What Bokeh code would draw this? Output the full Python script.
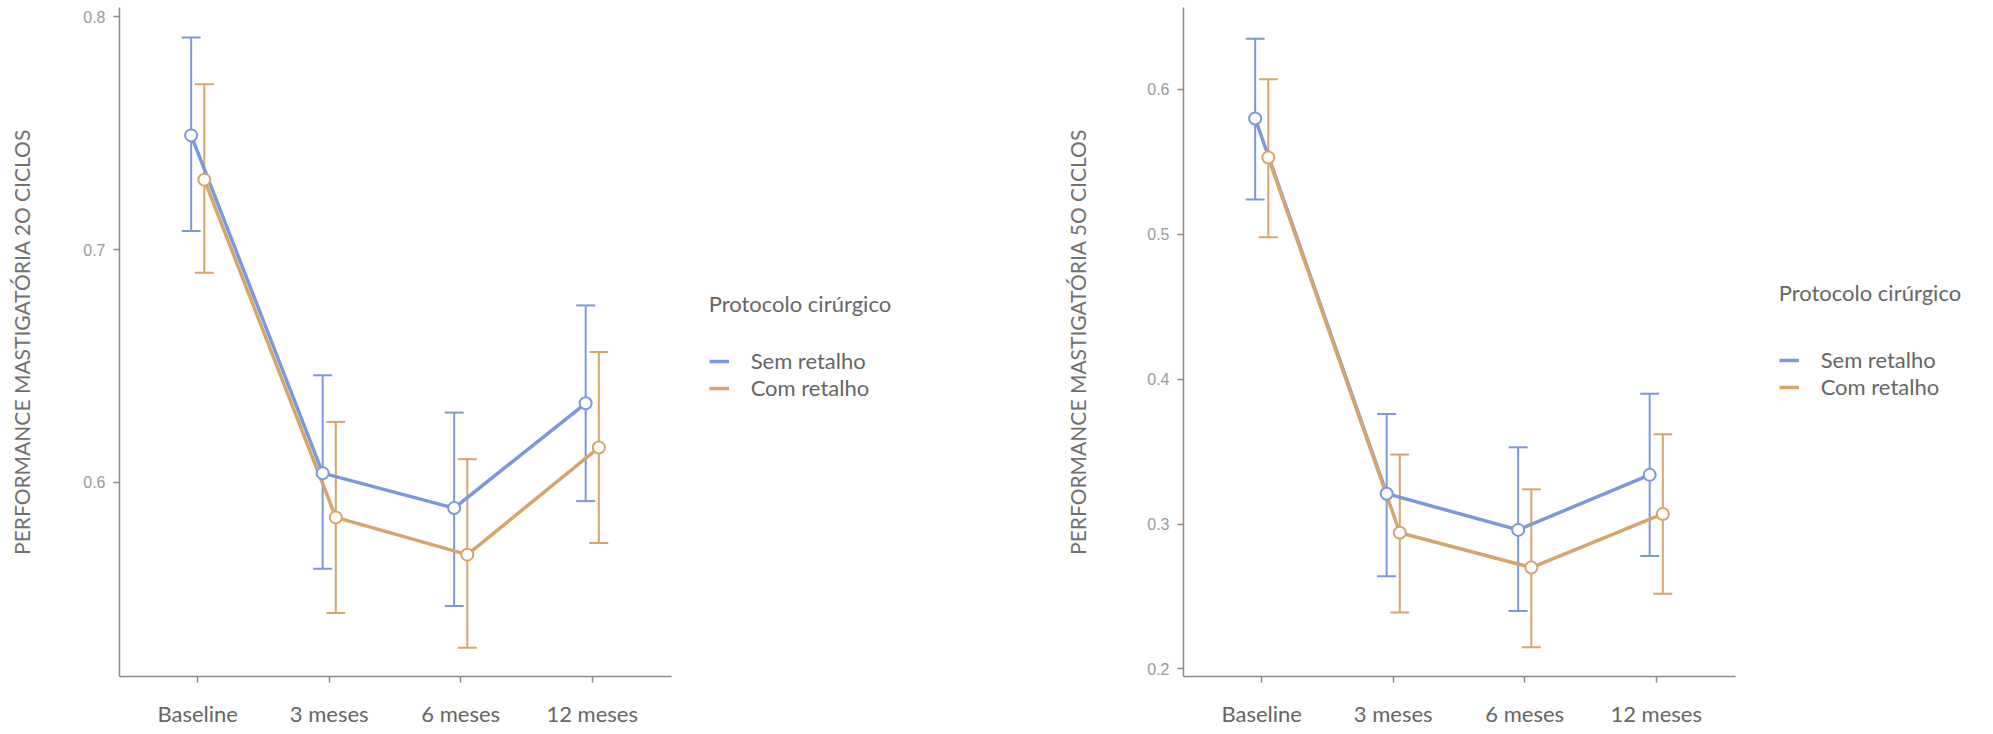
from bokeh.plotting import figure
from bokeh.models import (Range1d, FixedTicker, NumeralTickFormatter,
                          Legend, LegendItem, ColumnDataSource)
from bokeh.transform import dodge
from bokeh.layouts import row
from bokeh.embed import file_html
from bokeh.resources import INLINE

categories = ["Baseline", "3 meses", "6 meses", "12 meses"]
series_names = ["Sem retalho", "Com retalho"]
legend_title = "Protocolo cirúrgico"

# Chart 1: 20 ciclos
c20_sem_mean = [0.749, 0.604, 0.589, 0.634]
c20_sem_lo = [0.708, 0.563, 0.547, 0.592]
c20_sem_hi = [0.791, 0.646, 0.630, 0.676]
c20_com_mean = [0.730, 0.585, 0.569, 0.615]
c20_com_lo = [0.690, 0.544, 0.529, 0.574]
c20_com_hi = [0.771, 0.626, 0.610, 0.656]
c20_ticks = [0.6, 0.7, 0.8]

# Chart 2: 50 ciclos
c50_sem_mean = [0.580, 0.321, 0.296, 0.334]
c50_sem_lo = [0.524, 0.264, 0.240, 0.278]
c50_sem_hi = [0.635, 0.376, 0.353, 0.390]
c50_com_mean = [0.553, 0.294, 0.270, 0.307]
c50_com_lo = [0.498, 0.239, 0.215, 0.252]
c50_com_hi = [0.607, 0.348, 0.324, 0.362]
c50_ticks = [0.2, 0.3, 0.4, 0.5, 0.6]

BLUE = "#7d98da"
ORANGE = "#d6a56c"
AXIS = "#8a8a8a"
DODGE = 0.05
CAP = 0.072
PX_PER_CAT = 131.5
X_START = 0.405
X_AXIS_END = 4.6
HEIGHT = 732
TOP = 7
FRAME_H = 669

positions = list(range(1, len(categories) + 1))


def make_chart(ylabel, yr, ticks, sem, com, width, border_left,
               label_standoff, title_standoff, legend_dx, legend_y):
    frame_w = width - border_left
    p = figure(x_range=Range1d(X_START, X_START + frame_w / PX_PER_CAT),
               y_range=Range1d(*yr),
               width=width, height=HEIGHT,
               min_border_left=border_left, min_border_right=0,
               min_border_top=TOP, min_border_bottom=HEIGHT - TOP - FRAME_H,
               output_backend="svg", toolbar_location=None)
    p.xgrid.visible = False
    p.ygrid.visible = False
    p.outline_line_color = None

    srcs = []
    for (mean, lo, hi), col, off in ((sem, BLUE, -DODGE), (com, ORANGE, DODGE)):
        src = ColumnDataSource(dict(x=positions, mean=mean, lo=lo, hi=hi))
        srcs.append((src, col, off))

    # error bars
    for src, col, off in srcs:
        p.segment(x0=dodge("x", off), y0="lo", x1=dodge("x", off), y1="hi",
                  source=src, line_color=col, line_width=2)
        for end in ("lo", "hi"):
            p.segment(x0=dodge("x", off - CAP), y0=end,
                      x1=dodge("x", off + CAP), y1=end,
                      source=src, line_color=col, line_width=2)
    # lines
    lines = []
    for src, col, off in srcs:
        lines.append(p.line(x=dodge("x", off), y="mean",
                            source=src, line_color=col, line_width=3.5))
    # points
    for src, col, off in srcs:
        p.scatter(x=dodge("x", off), y="mean", source=src,
                  marker="circle", size=12, fill_color="white",
                  line_color=col, line_width=2)

    for ax in (p.xaxis[0], p.yaxis[0]):
        ax.axis_line_color = AXIS
        ax.axis_line_width = 1.5
        ax.major_tick_line_color = AXIS
        ax.major_tick_line_width = 1.5
        ax.major_tick_out = 6
        ax.major_tick_in = 0
        ax.minor_tick_out = 0
        ax.minor_tick_in = 0

    p.xaxis.bounds = (X_START, X_AXIS_END)
    p.xaxis.ticker = FixedTicker(ticks=positions)
    p.xaxis.major_label_overrides = {pos: cat for pos, cat in zip(positions, categories)}
    p.xaxis.major_label_text_font = "Lato"
    p.xaxis.major_label_text_font_size = "22px"
    p.xaxis.major_label_text_color = "#666666"
    p.xaxis.major_label_standoff = 17

    p.yaxis.ticker = FixedTicker(ticks=ticks)
    p.yaxis.formatter = NumeralTickFormatter(format="0.0")
    p.yaxis.major_label_text_font = "Liberation Sans"
    p.yaxis.major_label_text_font_size = "16px"
    p.yaxis.major_label_text_color = "#9a9a9a"
    p.yaxis.major_label_standoff = 8
    p.yaxis.axis_label = ylabel
    p.yaxis.axis_label_text_font = "Lato"
    p.yaxis.axis_label_text_font_size = "21px"
    p.yaxis.axis_label_text_font_style = "normal"
    p.yaxis.axis_label_text_color = "#707070"
    p.yaxis.axis_label_standoff = label_standoff

    legend_x = (X_AXIS_END - X_START) * PX_PER_CAT + legend_dx
    legend = Legend(items=[LegendItem(label=series_names[0], renderers=[lines[0]]),
                           LegendItem(label=series_names[1], renderers=[lines[1]])],
                    title=legend_title, location=(legend_x, legend_y))
    legend.label_text_font = "Lato"
    legend.label_text_font_size = "22px"
    legend.label_text_color = "#666666"
    legend.title_text_font = "Lato"
    legend.title_text_font_size = "22px"
    legend.title_text_font_style = "normal"
    legend.title_text_color = "#666666"
    legend.border_line_color = None
    legend.background_fill_alpha = 0
    legend.padding = 0
    legend.margin = 0
    legend.spacing = 0
    legend.label_height = 24
    legend.glyph_height = 24
    legend.glyph_width = 20
    legend.label_standoff = 22
    legend.title_standoff = title_standoff
    p.add_layout(legend)
    return p


p1 = make_chart("PERFORMANCE MASTIGATÓRIA 2O CICLOS", (0.5167, 0.8039), c20_ticks,
                (c20_sem_mean, c20_sem_lo, c20_sem_hi),
                (c20_com_mean, c20_com_lo, c20_com_hi),
                1000, 119, 46, 30, 38, 275)
p2 = make_chart("PERFORMANCE MASTIGATÓRIA 5O CICLOS", (0.1948, 0.6566), c50_ticks,
                (c50_sem_mean, c50_sem_lo, c50_sem_hi),
                (c50_com_mean, c50_com_lo, c50_com_hi),
                985, 183, 54, 40, 44, 276)

layout = row(p1, p2)
open("out.html", "w").write(file_html(layout, INLINE))
